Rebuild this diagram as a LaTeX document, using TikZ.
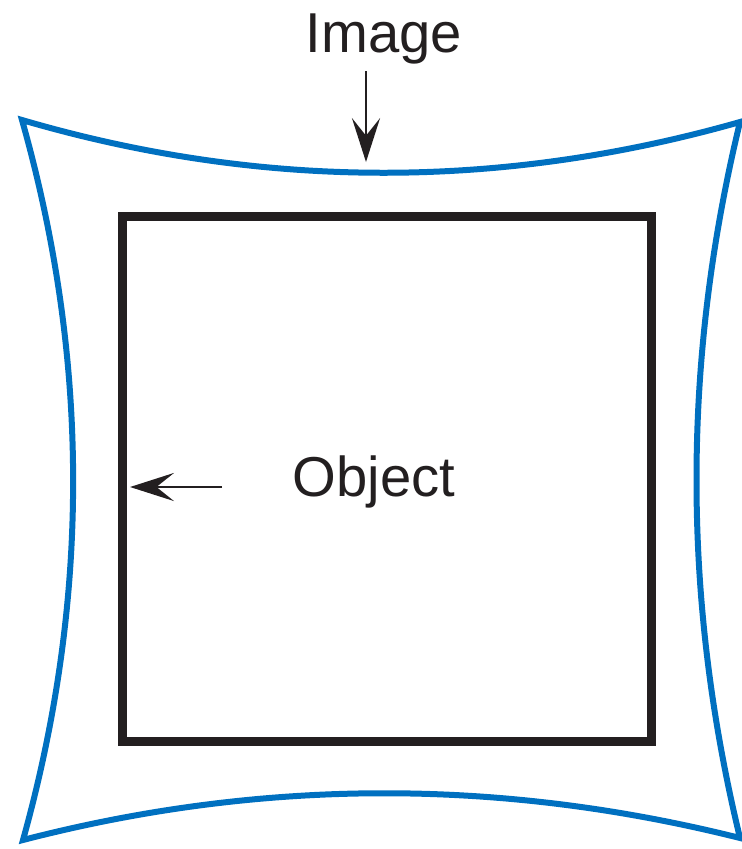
\documentclass[tikz,border=0pt]{standalone}
\usepackage{fontspec}
\setmainfont{Liberation Sans}
\usetikzlibrary{arrows.meta, positioning, calc}
\definecolor{cblue}{HTML}{0070C0}
\definecolor{cblack}{HTML}{231F20}
\tikzset{
  every picture/.style={font=\fontsize{32}{38}\selectfont},
  label/.style={text=cblack, inner sep=4pt},
  arrow/.style={-{Stealth[length=25pt, width=16pt, inset=10pt]}, draw=cblack, line width=1.1pt},
}

\begin{document}
\begin{tikzpicture}[x=0.02cm, y=-0.02cm,
  objbox/.style={draw=cblack, line width=0.18cm, inner sep=0pt, outer sep=0pt,
    minimum width=10.6cm, minimum height=10.52cm},
  imgshape/.style={draw=cblue, line width=0.12cm, line join=miter}]
  \useasboundingbox (0,0) rectangle (741,849);
  % ---- image (pincushion) ----
  \draw[imgshape] (22,120) .. controls (261,190) and (501,190) .. (740,122)
    .. controls (682,361) and (682,599) .. (740,838)
    .. controls (501,778) and (262,778) .. (23,840)
    .. controls (90,600) and (90,360) .. cycle;
  % ---- object ----
  \node[objbox] (sq) at (387,479) {};
  \node[label, anchor=base] (obj) at (374,496) {Object};
  \node[label, anchor=base] (img) at (384,52) {Image};
  % ---- arrows ----
  \coordinate (imgtip) at (366,162);
  \coordinate (objtail) at (222,487);
  \draw[arrow] (img.south -| imgtip) -- (imgtip);
  \draw[arrow, shorten >=0.16cm] (objtail) -- (objtail -| sq.west);
\end{tikzpicture}
\end{document}
